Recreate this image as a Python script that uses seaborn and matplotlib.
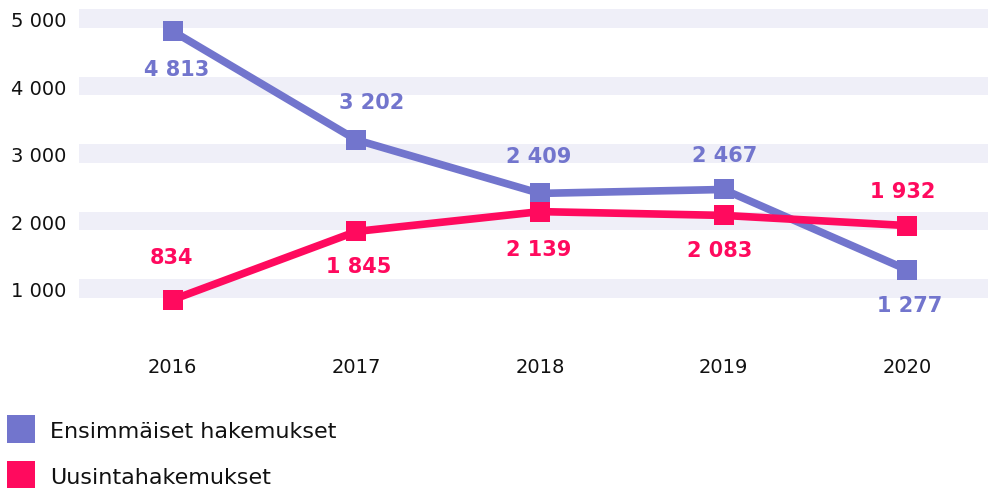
"""
Ensimmäiset hakemukset vs. uusintahakemukset 2016-2020.
"""

import pandas as pd
import matplotlib
matplotlib.use("Agg")
import matplotlib.pyplot as plt
from matplotlib.lines import Line2D
import seaborn as sns

years = [2016, 2017, 2018, 2019, 2020]
first_apps = [4813, 3202, 2409, 2467, 1277]
renewal_apps = [834, 1845, 2139, 2083, 1932]
series_names = ["Ensimmäiset hakemukset", "Uusintahakemukset"]
y_ticks = [1000, 2000, 3000, 4000, 5000]

BLUE = "#7275CD"
PINK = "#FF0A5E"
BAND = "#EFEFF8"


def fmt(v):
    return f"{v:,}".replace(",", " ")


df = pd.DataFrame({
    "year": years * 2,
    "value": first_apps + renewal_apps,
    "series": [series_names[0]] * len(years) + [series_names[1]] * len(years),
})

sns.set_theme(style="white")
plt.rcParams["font.family"] = ["DejaVu Sans"]

fig = plt.figure(figsize=(9.88, 4.89), dpi=100)
ax = fig.add_axes([79 / 988, 132 / 489, 1 - 79 / 988, 357 / 489])

# light bands instead of gridlines
for t in y_ticks:
    ax.axhspan(t - 140, t + 140, color=BAND, lw=0, zorder=0)

sns.lineplot(data=df, x="year", y="value", hue="series",
             palette=[BLUE, PINK], marker="s", markersize=15,
             markeredgewidth=0, linewidth=5.5, legend=False, ax=ax, zorder=3)

# value labels: blue above/below, pink the opposite
blue_off = [(3, -27), (11, 27), (-1, 27), (1, 25), (2, -25)]
pink_off = [(-1, 31), (2, -25), (-1, -27), (-3, -25), (-3, 25)]
for x, v, off in zip(years, first_apps, blue_off):
    ax.annotate(fmt(v), (x, v), xytext=off, textcoords="offset points",
                ha="center", va="center", color=BLUE, fontsize=15,
                fontweight="bold", zorder=4)
for x, v, off in zip(years, renewal_apps, pink_off):
    ax.annotate(fmt(v), (x, v), xytext=off, textcoords="offset points",
                ha="center", va="center", color=PINK, fontsize=15,
                fontweight="bold", zorder=4)

ax.set_xlim(years[0] - 0.51, years[-1] + 0.44)
ax.set_ylim(0, 5289)
ax.set_xticks(years)
ax.set_xticklabels([str(y) for y in years])
ax.set_yticks(y_ticks)
ax.set_yticklabels([fmt(t) for t in y_ticks])
ax.tick_params(axis="both", length=0, labelsize=14, colors="#111111")
ax.tick_params(axis="y", pad=9)
ax.tick_params(axis="x", pad=0.5)
ax.set_xlabel("")
ax.set_ylabel("")
sns.despine(ax=ax, left=True, bottom=True)

handles = [Line2D([], [], marker="s", ls="", color=c, markersize=19.5,
                  markeredgewidth=0) for c in (BLUE, PINK)]
fig.legend(handles, series_names, loc="upper left",
           bbox_to_anchor=(-0.003, 0.16), frameon=False, fontsize=16,
           handletextpad=0.67, labelspacing=1.18, borderpad=0,
           handlelength=1.2, labelcolor="#111111")

fig.savefig("out.png", dpi=100)
